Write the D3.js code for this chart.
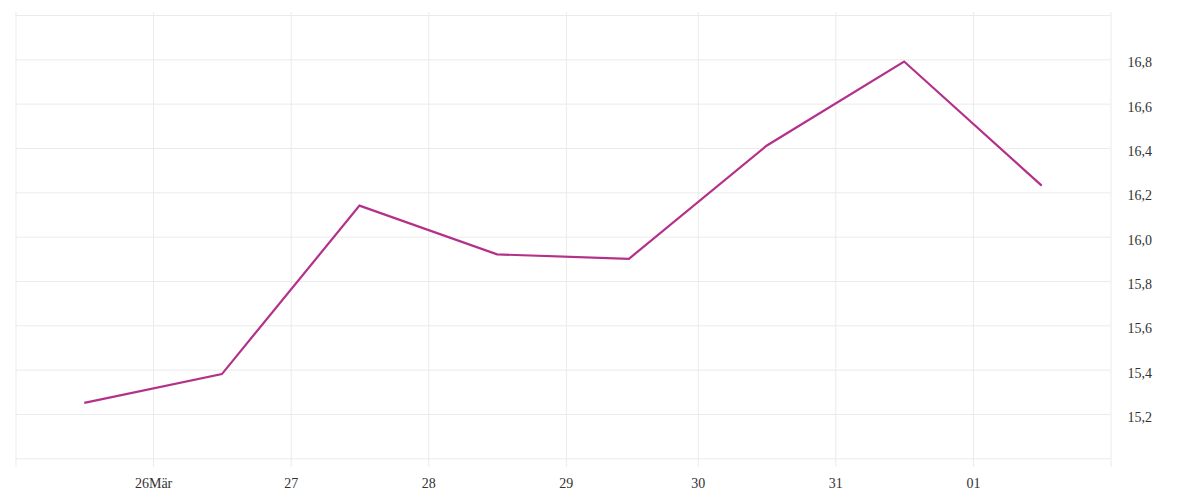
<!DOCTYPE html>
<html>
<head>
<meta charset="utf-8">
<script src="https://cdn.jsdelivr.net/npm/d3@7"></script>
<style>
  body { margin: 0; background: #fff; }
  .axis text { font-family: "Liberation Serif", serif; font-size: 14px; fill: #333; }
  .grid line { stroke: #ebebeb; stroke-width: 1; }
  .axis path, .grid path { display: none; }
</style>
</head>
<body>
<div id="graph"></div>
<script>
// daily values, Berlin local time (DST switch on Mar 29)
var dates = ["2020-03-25T12:00:00+01:00", "2020-03-26T12:00:00+01:00", "2020-03-27T12:00:00+01:00",
             "2020-03-28T12:00:00+01:00", "2020-03-29T12:00:00+02:00", "2020-03-30T12:00:00+02:00",
             "2020-03-31T12:00:00+02:00", "2020-04-01T12:00:00+02:00"];
var values = [15.25, 15.38, 16.14, 15.92, 15.90, 16.41, 16.79, 16.23];

var xDomain = ["2020-03-25T00:00:00+01:00", "2020-04-02T00:00:00+02:00"];
var xTicks = ["2020-03-26T00:00:00+01:00", "2020-03-27T00:00:00+01:00", "2020-03-28T00:00:00+01:00",
              "2020-03-29T00:00:00+01:00", "2020-03-30T00:00:00+02:00", "2020-03-31T00:00:00+02:00",
              "2020-04-01T00:00:00+02:00"];
var xTickLabels = ["26Mär", "27", "28", "29", "30", "31", "01"];

var yDomain = [15.0, 17.0];
var yTicks = [15.2, 15.4, 15.6, 15.8, 16.0, 16.2, 16.4, 16.6, 16.8];

var plot = {left: 15.5, right: 1110.5, top: 15, bottom: 458.3};

var svg = d3.select('#graph').append("svg").attr("width", 1200).attr("height", 500);

var x = d3.scaleUtc()
    .domain(xDomain.map(function(d){ return new Date(d); }))
    .range([plot.left, plot.right]);

var y = d3.scaleLinear()
    .domain(yDomain)
    .range([plot.bottom, plot.top]);

// vertical grid (incl. the two edge lines)
var vGrid = [xDomain[0]].concat(xTicks, [xDomain[1]]).map(function(d){ return new Date(d); });
svg.append("g")
    .attr("class", "grid")
    .attr("transform", "translate(0,467)")
    .call(d3.axisBottom(x).tickValues(vGrid).tickSizeInner(-455).tickSizeOuter(0).tickFormat(""));

// horizontal grid
svg.append("g")
    .attr("class", "grid")
    .attr("transform", "translate(" + plot.right + ",0)")
    .call(d3.axisRight(y).ticks(10).tickSizeInner(-(plot.right - plot.left)).tickSizeOuter(0).tickFormat(""));

// x labels
var xAxis = svg.append("g")
    .attr("class", "axis")
    .attr("transform", "translate(0,466)")
    .call(d3.axisBottom(x)
        .tickValues(xTicks.map(function(d){ return new Date(d); }))
        .tickSize(0)
        .tickFormat(function(d, i){ return xTickLabels[i]; }));
xAxis.selectAll("line").remove();
xAxis.selectAll("text").attr("y", 22).attr("dy", null);

// y labels, right side
var yAxis = svg.append("g")
    .attr("class", "axis")
    .attr("transform", "translate(" + plot.right + ",0)")
    .call(d3.axisRight(y)
        .tickValues(yTicks)
        .tickSize(0)
        .tickPadding(17)
        .tickFormat(function(d){ return d3.format(".1f")(d).replace(".", ","); }));
yAxis.selectAll("line").remove();
yAxis.selectAll("text").attr("dy", "0.53em");

var line = d3.line()
    .x(function(d, i){ return x(new Date(dates[i])); })
    .y(function(d){ return y(d); });

svg.append("path")
    .datum(values)
    .attr("fill", "none")
    .attr("stroke", "#b4318a")
    .attr("stroke-width", 2.2)
    .attr("stroke-linejoin", "miter")
    .attr("d", line);
</script>
</body>
</html>
